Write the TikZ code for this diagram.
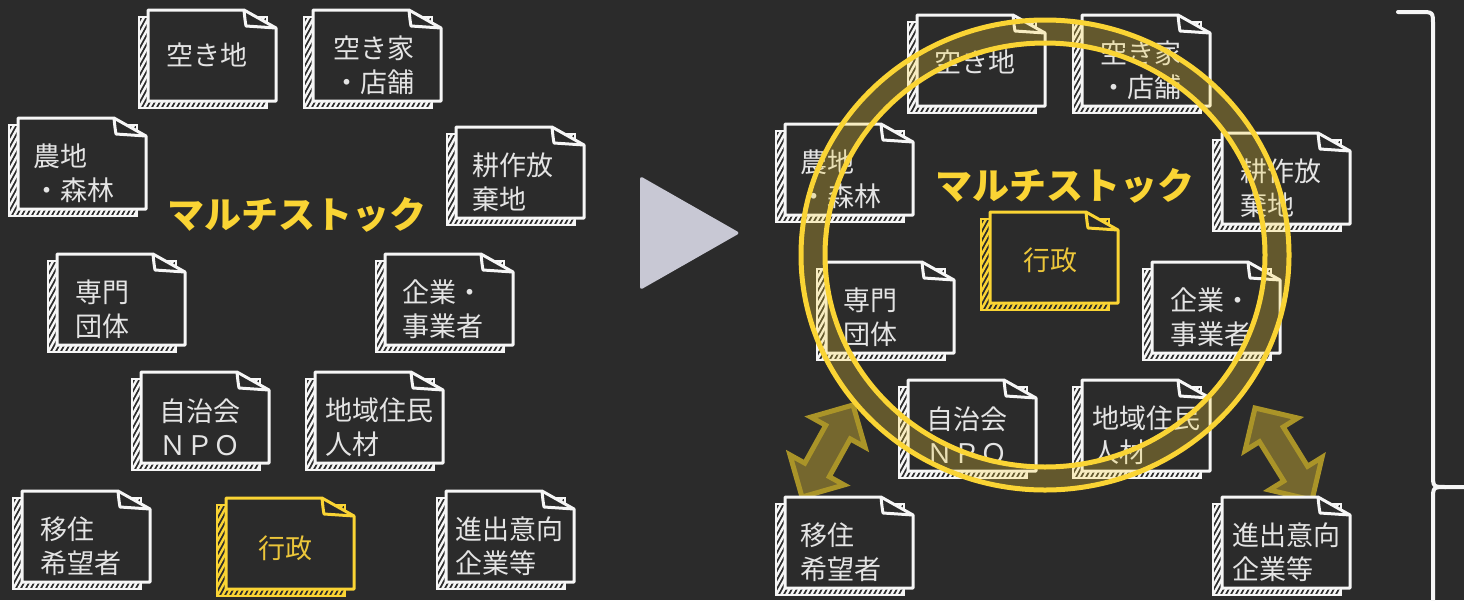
\documentclass[tikz,border=0pt]{standalone}
\usepackage{fontspec}
\setmainfont{Noto Sans CJK JP}
\usetikzlibrary{calc}
\definecolor{bg}{RGB}{43,43,43}
\definecolor{chalk}{RGB}{246,246,246}
\definecolor{txt}{RGB}{228,228,228}
\definecolor{yel}{RGB}{250,212,52}
\definecolor{ytxt}{RGB}{236,198,58}
\definecolor{arrowline}{RGB}{170,148,40}
\definecolor{tri}{RGB}{200,200,212}
\tikzset{
 cardtext/.style={anchor=west, align=left, inner sep=0, text=txt, font=\fontsize{27}{34}\selectfont},
 cardone/.style={anchor=center, inner sep=0, text=txt, font=\fontsize{27}{34}\selectfont},
 titletext/.style={text=yel, font=\fontsize{37}{42}\selectfont\bfseries, inner sep=0},
 ringline/.style={draw=yel, line width=5},
 dblarrowstyle/.style={fill=yel, fill opacity=0.36, draw=arrowline, draw opacity=1, line width=5, line join=miter},
}
\newcommand{\mycard}[4]{%
 \begin{scope}[shift={(#2,#3)}]
  \begin{scope}
   \clip (-9,7) rectangle (119,98);
   \foreach \i in {-70,-65,...,130} \draw[#4, line width=2.4] (\i,100) -- ++(55,-100);
  \end{scope}
  \draw[#4, line width=2.6] (-9,7) rectangle (119,98);
  \filldraw[fill=bg, draw=#4, line width=3, line join=round] (0,0) -- (96,0) -- (128,18) -- (128,91) -- (0,91) -- cycle;
  \draw[#4, line width=3, line join=round] (96,0) .. controls (97,10) .. (98,16) -- (128,18);
  \coordinate (#1) at (64,45);
 \end{scope}}
\newcommand{\dblarrow}[2]{%
 \coordinate (h1) at ($(#1)!31pt!(#2)$);
 \coordinate (h2) at ($(#2)!31pt!(#1)$);
 \filldraw[dblarrowstyle] (#1) -- ($(h1)!31pt!90:(#1)$) -- ($(h1)!14pt!90:(#1)$) -- ($(h2)!14pt!-90:(#2)$) -- ($(h2)!31pt!-90:(#2)$) -- (#2) -- ($(h2)!31pt!90:(#2)$) -- ($(h2)!14pt!90:(#2)$) -- ($(h1)!14pt!-90:(#1)$) -- ($(h1)!31pt!-90:(#1)$) -- cycle;}
\begin{document}
\begin{tikzpicture}[x=1pt,y=-1pt]
\useasboundingbox (0,0) rectangle (1464,600);
\fill[bg] (0,0) rectangle (1464,600);

% ---------- left side ----------
\mycard{la}{148}{10}{chalk}
\node[cardone] (tla) at ($(la)+(-5,0)$) {空き地};
\mycard{lb}{313}{10}{chalk}
\node[cardtext] (tlb) at ($(lb)+(-44,10)$) {空き家\\・店舗};
\mycard{lc}{18}{118}{chalk}
\node[cardtext] (tlc) at ($(lc)+(-49,10)$) {農地\\・森林};
\mycard{ld}{456}{127}{chalk}
\node[cardtext] (tld) at ($(ld)+(-48,10)$) {耕作放\\棄地};
\mycard{le}{57}{254}{chalk}
\node[cardtext] (tle) at ($(le)+(-46,10)$) {専門\\団体};
\mycard{lf}{385}{254}{chalk}
\node[cardtext] (tlf) at ($(lf)+(-47,10)$) {企業・\\事業者};
\mycard{lg}{141}{372}{chalk}
\node[cardtext] (tlg) at ($(lg)+(-46,10)$) {自治会\\ＮＰＯ};
\mycard{lh}{315}{372}{chalk}
\node[cardtext] (tlh) at ($(lh)+(-54,10)$) {地域住民\\人材};
\mycard{li}{22}{491}{chalk}
\node[cardtext] (tli) at ($(li)+(-46,10)$) {移住\\希望者};
\mycard{lj}{226}{498}{yel}
\node[cardone, text=ytxt] (tlj) at ($(lj)+(-5,5)$) {行政};
\mycard{lk}{446}{491}{chalk}
\node[cardtext] (tlk) at ($(lk)+(-55,10)$) {進出意向\\企業等};
\node[titletext] (ltitle) at (297,215) {マルチストック};

% ---------- arrow triangle ----------
\fill[tri, rounded corners=3] (640,176) -- (740,233) -- (640,290) -- cycle;

% ---------- right side ----------
\coordinate (aa) at (802,497);
\coordinate (ab) at (853,405);
\coordinate (ac) at (1255,408);
\coordinate (ad) at (1312,500);
\dblarrow{aa}{ab}
\dblarrow{ac}{ad}

\mycard{ra}{917}{15}{chalk}
\node[cardone] (tra) at ($(ra)+(-6,2)$) {空き地};
\mycard{rb}{1082}{15}{chalk}
\node[cardtext] (trb) at ($(rb)+(-46,10)$) {空き家\\・店舗};
\mycard{rc}{785}{124}{chalk}
\node[cardtext] (trc) at ($(rc)+(-49,10)$) {農地\\・森林};
\mycard{rd}{1222}{133}{chalk}
\node[cardtext] (trd) at ($(rd)+(-46,10)$) {耕作放\\棄地};
\mycard{re}{990}{212}{yel}
\node[cardone, text=ytxt] (tre) at ($(re)+(-4,3)$) {行政};
\mycard{rf}{826}{262}{chalk}
\node[cardtext] (trf) at ($(rf)+(-47,10)$) {専門\\団体};
\mycard{rg}{1152}{262}{chalk}
\node[cardtext] (trg) at ($(rg)+(-46,10)$) {企業・\\事業者};
\mycard{rh}{908}{380}{chalk}
\node[cardtext] (trh) at ($(rh)+(-46,10)$) {自治会\\ＮＰＯ};
\mycard{ri}{1082}{380}{chalk}
\node[cardtext] (tri) at ($(ri)+(-54,10)$) {地域住民\\人材};
\mycard{rj}{785}{497}{chalk}
\node[cardtext] (trj) at ($(rj)+(-49,10)$) {移住\\希望者};
\mycard{rk}{1222}{497}{chalk}
\node[cardtext] (trk) at ($(rk)+(-54,10)$) {進出意向\\企業等};
\node[titletext] (rtitle) at (1065,186) {マルチストック};

% ring
\coordinate (rc0) at (1045,255);
\fill[yel, fill opacity=0.27, even odd rule] (rc0) ellipse [x radius=244, y radius=235] (rc0) ellipse [x radius=220, y radius=212];
\draw[ringline] (rc0) ellipse [x radius=244, y radius=235];
\draw[ringline] (rc0) ellipse [x radius=220, y radius=212];

% brace
\draw[chalk, line width=4, line cap=round, line join=round] (1398,12) -- (1420,12) .. controls (1433,12) .. (1433,25) -- (1433,474) .. controls (1433,487) .. (1446,487) -- (1470,487);
\draw[chalk, line width=4, line join=round] (1433,605) -- (1433,500) .. controls (1433,487) .. (1446,487);
\end{tikzpicture}
\end{document}
